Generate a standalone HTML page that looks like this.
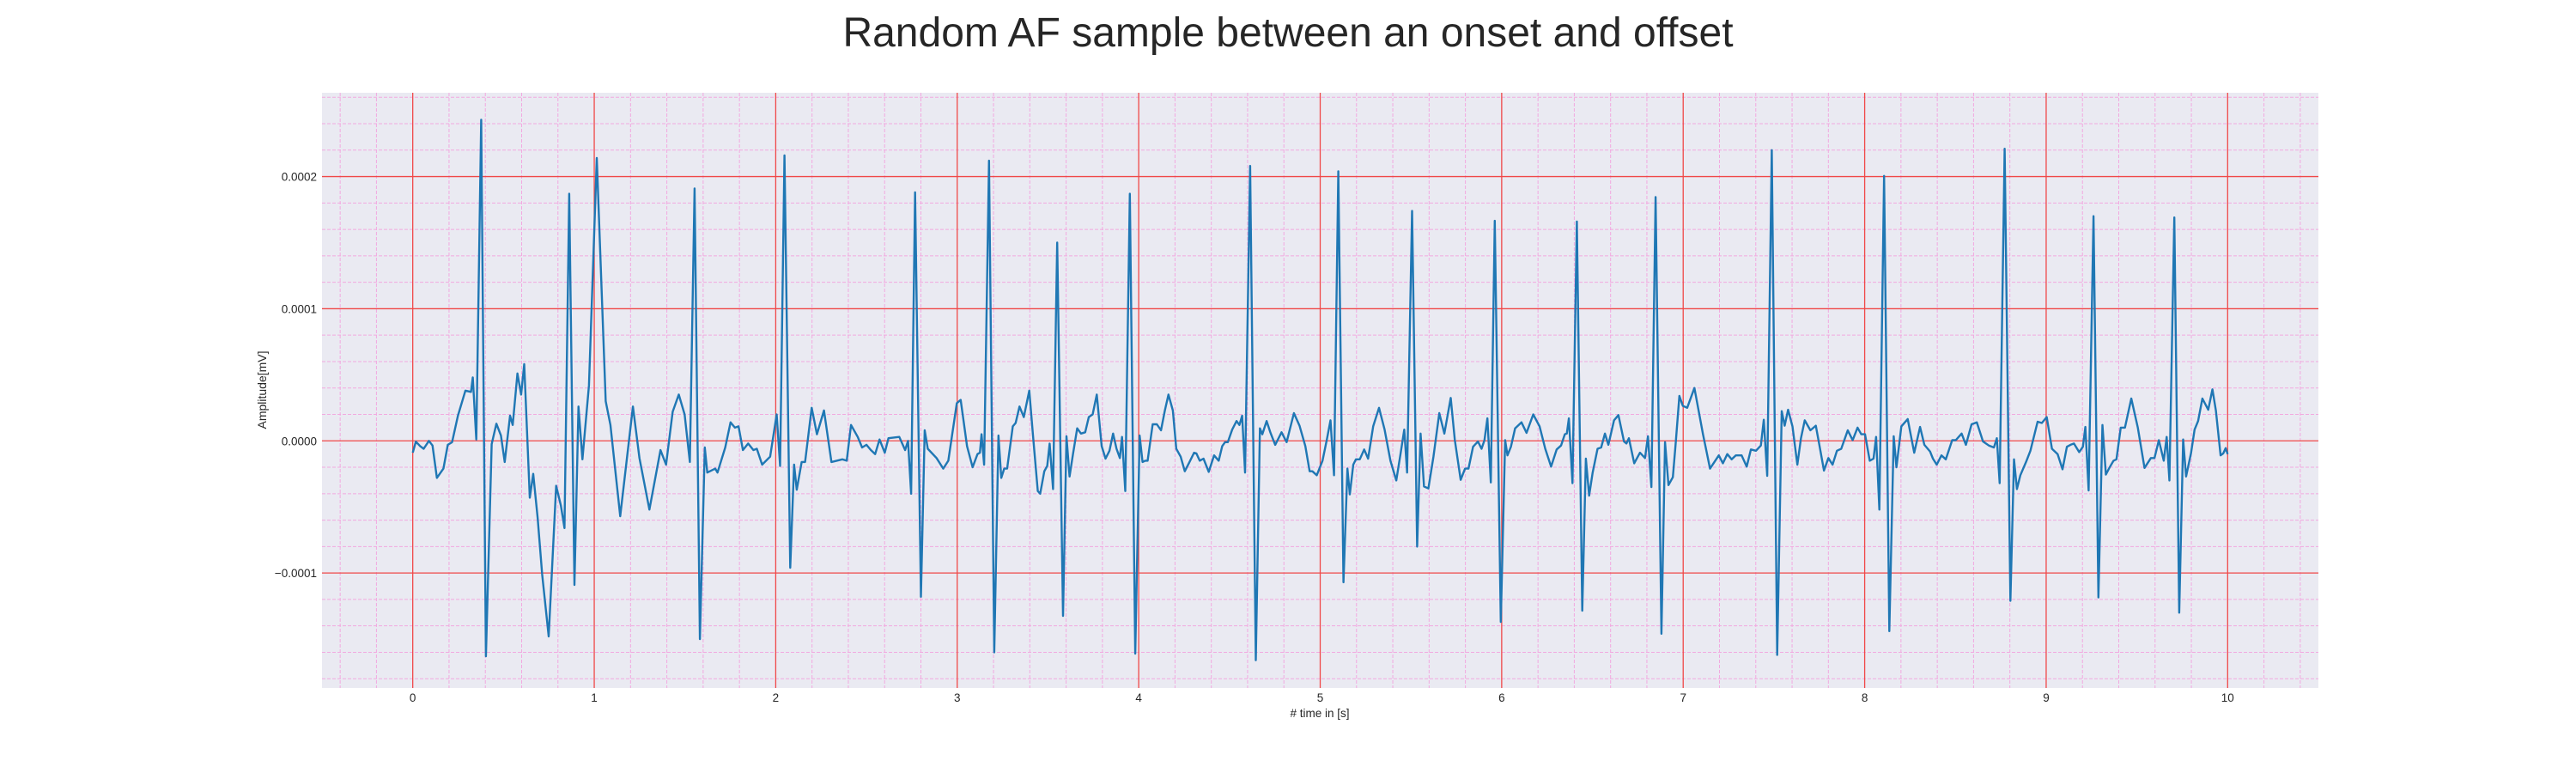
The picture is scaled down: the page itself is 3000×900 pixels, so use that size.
<!DOCTYPE html>
<html><head><meta charset="utf-8"><style>
html,body{margin:0;padding:0;background:#fff;}
svg{display:block;font-family:"Liberation Sans",Arial,sans-serif;}
</style></head><body>
<svg id="chart" width="3000" height="900" viewBox="0 0 3000 900">
<text x="1500" y="54" text-anchor="middle" font-size="48" fill="#262626">Random AF sample between an onset and offset</text>
<rect x="375" y="108" width="2325" height="693" fill="#eaeaf2"/>
<g id="grid"></g>
<g id="ticks"></g>
<g id="series"></g>
<text x="1537" y="835" text-anchor="middle" font-size="13.5" fill="#262626"># time in [s]</text>
<text transform="translate(310,454) rotate(-90)" text-anchor="middle" font-size="14" fill="#262626">Amplitude[mV]</text>
</svg>
<script>
// time in seconds
const times = [0,0.017,0.041,0.06,0.089,0.109,0.133,0.169,0.193,0.217,0.249,0.29,0.321,0.331,0.35,0.377,0.403,0.435,0.461,0.486,0.507,0.536,0.551,0.577,0.597,0.614,0.645,0.664,0.688,0.713,0.749,0.79,0.816,0.836,0.862,0.891,0.913,0.935,0.971,1.014,1.063,1.089,1.143,1.213,1.249,1.304,1.365,1.396,1.432,1.466,1.498,1.527,1.553,1.582,1.609,1.623,1.667,1.679,1.722,1.751,1.775,1.795,1.819,1.848,1.877,1.896,1.925,1.969,2.005,2.024,2.048,2.08,2.101,2.116,2.143,2.162,2.198,2.227,2.266,2.307,2.367,2.391,2.415,2.452,2.476,2.5,2.524,2.548,2.572,2.601,2.621,2.681,2.713,2.729,2.746,2.768,2.8,2.821,2.838,2.886,2.923,2.951,2.998,3.019,3.054,3.085,3.112,3.125,3.134,3.148,3.175,3.204,3.227,3.243,3.259,3.275,3.306,3.322,3.343,3.367,3.397,3.417,3.444,3.457,3.48,3.496,3.509,3.528,3.551,3.583,3.602,3.619,3.638,3.661,3.682,3.705,3.725,3.746,3.769,3.796,3.817,3.839,3.859,3.878,3.896,3.908,3.926,3.951,3.981,4.005,4.021,4.036,4.049,4.077,4.1,4.123,4.144,4.164,4.188,4.207,4.231,4.254,4.278,4.305,4.318,4.336,4.357,4.386,4.415,4.441,4.46,4.476,4.491,4.515,4.539,4.555,4.57,4.586,4.614,4.645,4.668,4.681,4.705,4.725,4.752,4.787,4.815,4.855,4.886,4.918,4.942,4.957,4.981,5.013,5.036,5.057,5.076,5.1,5.128,5.15,5.163,5.182,5.197,5.218,5.242,5.264,5.292,5.324,5.355,5.387,5.419,5.442,5.463,5.479,5.506,5.534,5.553,5.572,5.596,5.624,5.656,5.684,5.719,5.742,5.774,5.798,5.817,5.842,5.869,5.889,5.905,5.921,5.94,5.962,5.995,6.019,6.032,6.051,6.074,6.109,6.137,6.174,6.209,6.24,6.272,6.303,6.327,6.348,6.359,6.37,6.39,6.414,6.444,6.464,6.482,6.501,6.528,6.548,6.569,6.588,6.619,6.643,6.674,6.687,6.701,6.73,6.762,6.79,6.806,6.825,6.848,6.88,6.9,6.919,6.943,6.959,6.979,6.998,7.022,7.062,7.109,7.148,7.196,7.219,7.243,7.267,7.29,7.322,7.35,7.373,7.401,7.428,7.444,7.463,7.488,7.518,7.543,7.559,7.578,7.602,7.629,7.649,7.67,7.701,7.731,7.752,7.776,7.8,7.823,7.847,7.871,7.907,7.934,7.961,7.981,8.002,8.028,8.049,8.063,8.081,8.107,8.136,8.16,8.175,8.202,8.237,8.273,8.305,8.329,8.36,8.376,8.397,8.423,8.447,8.482,8.502,8.534,8.558,8.589,8.618,8.652,8.684,8.712,8.728,8.744,8.771,8.803,8.823,8.839,8.858,8.889,8.913,8.953,8.976,9.003,9.032,9.063,9.09,9.114,9.134,9.153,9.182,9.202,9.216,9.234,9.261,9.288,9.31,9.329,9.348,9.371,9.387,9.411,9.434,9.469,9.505,9.542,9.577,9.597,9.621,9.648,9.664,9.679,9.706,9.733,9.755,9.771,9.798,9.818,9.837,9.861,9.893,9.916,9.935,9.961,9.976,9.989,10.0];
// amplitude in units of 1e-5 mV
const ampE5 = [-0.9,-0.06,-0.4,-0.6,0,-0.35,-2.8,-2.1,-0.3,-0.1,1.9,3.8,3.7,4.8,0.1,24.3,-16.3,-0.25,1.3,0.4,-1.6,1.9,1.2,5.1,3.5,5.8,-4.3,-2.5,-5.8,-10.1,-14.8,-3.4,-4.9,-6.6,18.7,-10.9,2.6,-1.4,4.2,21.4,3.0,1.2,-5.7,2.6,-1.3,-5.2,-0.7,-1.8,2.2,3.5,2.0,-1.6,19.1,-15.0,-0.5,-2.4,-2.1,-2.4,-0.5,1.4,1.0,1.1,-0.7,-0.2,-0.7,-0.6,-1.8,-1.2,2.0,-1.9,21.6,-9.6,-1.8,-3.7,-1.6,-1.6,2.5,0.5,2.3,-1.6,-1.4,-1.5,1.2,0.3,-0.5,-0.3,-0.7,-1.0,0.1,-0.9,0.2,0.3,-0.7,0,-4.0,18.8,-11.8,0.8,-0.6,-1.3,-2.1,-1.5,2.85,3.1,-0.4,-2.0,-1.0,-0.9,0.5,-1.8,21.2,-16.0,0.4,-2.8,-2.1,-2.1,1.1,1.35,2.6,1.8,3.8,0.5,-3.8,-4.0,-2.3,-1.9,-0.2,-3.65,15.0,-13.25,0.35,-2.7,-1.0,0.95,0.55,0.65,1.8,2.0,3.5,-0.4,-1.35,-0.75,0.55,-0.6,-1.3,0.3,-3.8,18.7,-16.1,0.4,-1.6,-1.5,-1.5,1.25,1.25,0.8,2.3,3.5,2.3,-0.6,-1.2,-2.3,-1.65,-0.9,-0.95,-1.5,-1.35,-2.35,-1.1,-1.5,-0.4,-0.1,-0.1,0.85,1.5,1.2,1.9,-2.4,20.8,-16.6,0.95,0.5,1.5,0.65,-0.3,0.65,-0.1,2.1,1.15,-0.4,-2.3,-2.3,-2.6,-1.5,0.05,1.55,-2.6,20.4,-10.7,-2.1,-4.05,-1.8,-1.4,-1.4,-0.65,-1.35,1.1,2.5,0.85,-1.5,-3.0,-1.05,0.85,-2.4,17.4,-8.0,0.55,-3.45,-3.6,-1.2,2.1,0.55,3.25,0.05,-2.95,-2.1,-2.1,-0.45,-0.05,-0.6,0.05,1.7,-3.15,16.65,-13.7,0.05,-1.1,-0.45,0.95,1.4,0.6,2.0,1.1,-0.6,-1.95,-0.65,-0.35,0.5,0.55,1.7,-3.2,16.6,-12.85,-1.35,-4.15,-2.4,-0.6,-0.5,0.55,-0.3,1.55,1.95,-0.05,-0.2,0.2,-1.7,-0.9,-1.3,0.35,-3.5,18.45,-14.6,-0.1,-3.35,-2.75,-0.1,3.4,2.65,2.5,4.0,0.5,-2.1,-1.1,-1.7,-1.0,-1.4,-1.1,-1.1,-1.95,-0.65,-0.75,-0.35,1.6,-2.65,22.0,-16.2,2.25,1.15,2.35,1.1,-1.8,0.2,1.55,0.8,1.15,-0.45,-2.25,-1.3,-1.8,-0.75,-0.6,0.8,0.05,1.0,0.5,0.5,-1.5,-1.35,0.3,-5.2,20.05,-14.4,0.35,-2.0,1.1,1.65,-0.9,1.05,-0.3,-0.8,-1.35,-1.8,-1.1,-1.4,0.05,0.05,0.55,-0.3,1.25,1.4,-0.05,-0.35,-0.5,0.2,-3.2,22.1,-12.1,-1.4,-3.65,-2.6,-1.6,-0.75,1.45,1.35,1.8,-0.6,-1.0,-2.15,-0.45,-0.3,-0.2,-0.85,-0.45,1.05,-3.75,17.0,-11.85,1.2,-2.55,-2.05,-1.5,-1.4,1.0,1.0,3.2,1.0,-2.05,-1.3,-1.3,0.05,-1.5,0.3,-3.0,16.9,-13.0,0.1,-2.7,-0.95,0.85,1.5,3.2,2.35,3.9,2.3,-1.1,-0.95,-0.55,-1.0];
const xTickLabels = ["0","1","2","3","4","5","6","7","8","9","10"];
const yTickValues = [-0.0001,0,0.0001,0.0002];
const yTickLabels = ["\u22120.0001","0.0000","0.0001","0.0002"];

const NS="http://www.w3.org/2000/svg";
const L=375,R=2700,T=108,B=801,XMIN=-0.5,XMAX=10.5,YMIN=-0.000187,YMAX=0.0002634;
function xs(t){return L+(t-XMIN)/(XMAX-XMIN)*(R-L);}
function ys(v){return B-(v-YMIN)/(YMAX-YMIN)*(B-T);}
function mk(tag,attrs,parent){const e=document.createElementNS(NS,tag);for(const k in attrs)e.setAttribute(k,attrs[k]);parent.appendChild(e);return e;}
const grid=document.getElementById('grid'),ticks=document.getElementById('ticks'),series=document.getElementById('series');
// minor grid
for(let i=-2;i<=52;i++){const t=i*0.2;if(t<XMIN||t>XMAX||i%5===0)continue;const x=xs(t);
 const l=mk('line',{x1:x,x2:x,y1:T,y2:B,stroke:'#f2a9e0','stroke-width':1,'stroke-dasharray':'4,2'},grid);
 
 }
for(let i=-9;i<=13;i++){const v=i*0.00002;if(v<YMIN||v>YMAX||i%5===0)continue;const y=ys(v);
 const l=mk('line',{x1:L,x2:R,y1:y,y2:y,stroke:'#f2a9e0','stroke-width':1,'stroke-dasharray':'4,2'},grid);
 
 }
// major grid + labels
xTickLabels.forEach((lab,i)=>{const x=xs(Number(lab));
 const l=mk('line',{x1:x,x2:x,y1:T,y2:B,stroke:'#f04848','stroke-width':1.3},grid);
 
 
 const tx=mk('text',{x:x,y:817,'text-anchor':'middle','font-size':13.5,fill:'#262626'},ticks);tx.textContent=lab;
 
 });
yTickValues.forEach((v,i)=>{const y=ys(v);
 const l=mk('line',{x1:L,x2:R,y1:y,y2:y,stroke:'#f04848','stroke-width':1.3},grid);
 
 
 const tx=mk('text',{x:369,y:y+5,'text-anchor':'end','font-size':13.5,fill:'#262626'},ticks);tx.textContent=yTickLabels[i];
 
 });
// series
let d='';times.forEach((t,i)=>{d+=(i?'L':'M')+xs(t).toFixed(1)+','+ys(ampE5[i]*1e-5).toFixed(1);});
const p=mk('path',{d:d,fill:'none',stroke:'#1f77b4','stroke-width':2.4,'stroke-linejoin':'round'},series);


</script>
</body></html>
